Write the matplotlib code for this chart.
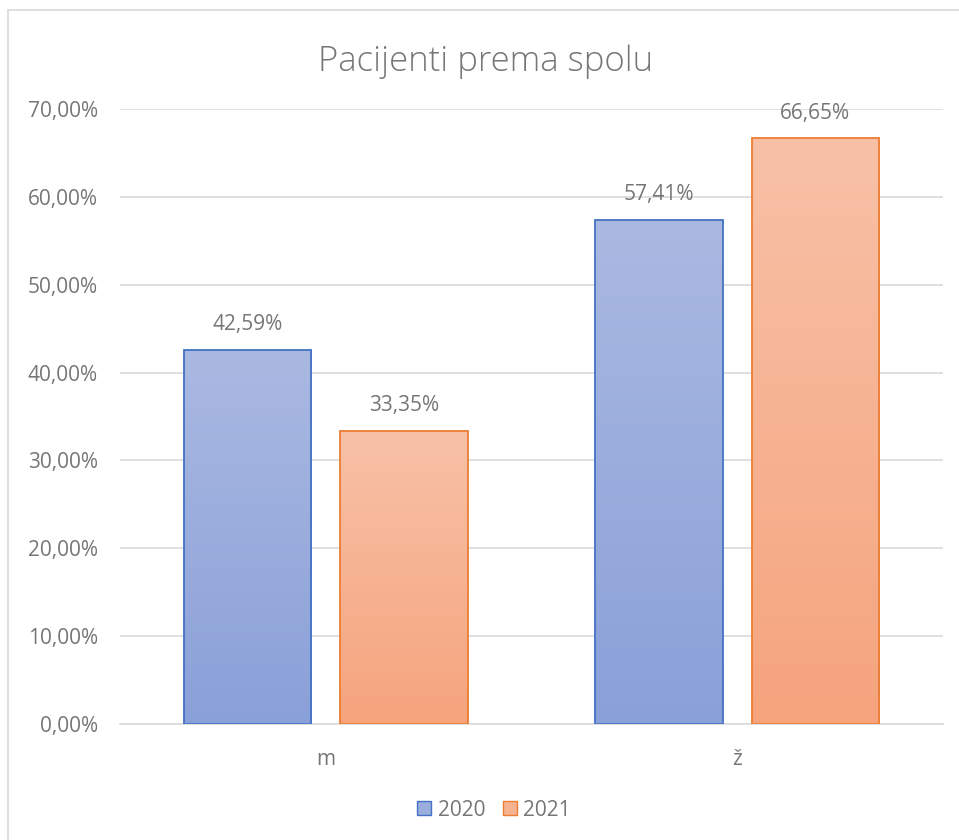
import numpy as np
import matplotlib.pyplot as plt
from matplotlib.patches import Rectangle
from matplotlib.colors import LinearSegmentedColormap

categories = ['m', 'ž']
years = ['2020', '2021']
values_2020 = [42.59, 57.41]
values_2021 = [33.35, 66.65]
yticks = [0, 10, 20, 30, 40, 50, 60, 70]

plt.rcParams['font.family'] = ['Open Sans', 'DejaVu Sans']
text_color = '#767676'

fig = plt.figure(figsize=(9.59, 8.4), dpi=100)
ax = fig.add_axes([120 / 959, 1 - 724 / 840, 823 / 959, 615 / 840])

styles = {
    '2020': dict(top='#AAB9E1', bottom='#8AA0D8', edge='#4472C4'),
    '2021': dict(top='#F8C1A7', bottom='#F5A47D', edge='#ED7D31'),
}

x = np.arange(len(categories))
width = 0.31
offset = 0.19

for vals, year, sign in [(values_2020, '2020', -1), (values_2021, '2021', 1)]:
    st = styles[year]
    cmap = LinearSegmentedColormap.from_list(year, [st['bottom'], st['top']])
    bars = ax.bar(x + sign * offset, vals, width, color='none',
                  edgecolor=st['edge'], linewidth=1.3, zorder=3, label=year)
    for b, v in zip(bars, vals):
        grad = np.linspace(0, 1, 256).reshape(-1, 1)
        x0 = b.get_x()
        im = ax.imshow(grad, cmap=cmap, origin='lower', aspect='auto',
                       extent=[x0, x0 + b.get_width(), 0, v], zorder=2)
        im.set_clip_path(b)
        ax.text(b.get_x() + b.get_width() / 2, v + 2.85, f'{v:.2f}%'.replace('.', ','),
                ha='center', va='center', fontsize=15, color=text_color)

ax.set_xlim(-0.5, 1.5)
ax.set_ylim(0, 70)
ax.set_yticks(yticks)
ax.set_yticklabels([f'{t:.2f}%'.replace('.', ',') for t in yticks])
ax.set_xticks(x)
ax.set_xticklabels(categories)
ax.tick_params(length=0, labelsize=15, colors=text_color)
ax.tick_params(axis='y', pad=16)
ax.tick_params(axis='x', pad=18)
ax.grid(axis='y', color='#D9D9D9', linewidth=1.2, zorder=0)
for s in ['top', 'right', 'left']:
    ax.spines[s].set_visible(False)
ax.spines['bottom'].set_color('#D9D9D9')
ax.spines['bottom'].set_linewidth(1.2)

fig.text(486 / 959, 1 - 62 / 840, 'Pacijenti prema spolu', ha='center', va='center',
         fontsize=25, color=text_color, fontweight='light')

handles = [Rectangle((0, 0), 1, 1, facecolor='#9AADDC', edgecolor='#4472C4'),
           Rectangle((0, 0), 1, 1, facecolor='#F6B291', edgecolor='#ED7D31')]
fig.legend(handles, years, loc='center', bbox_to_anchor=(494 / 959, 1 - 810 / 840),
           ncol=2, frameon=False, fontsize=15, labelcolor=text_color,
           handlelength=0.67, handleheight=0.67, handletextpad=0.3,
           columnspacing=0.85, borderpad=0)

# chart border: only the left and top edges fall inside the picture
fig.add_artist(plt.Line2D([8 / 959, 8 / 959], [0, 1 - 10 / 840],
                          transform=fig.transFigure, color='#D9D9D9', linewidth=1.2))
fig.add_artist(plt.Line2D([8 / 959, 1], [1 - 10 / 840, 1 - 10 / 840],
                          transform=fig.transFigure, color='#D9D9D9', linewidth=1.2))

fig.savefig('out.png', dpi=100)
